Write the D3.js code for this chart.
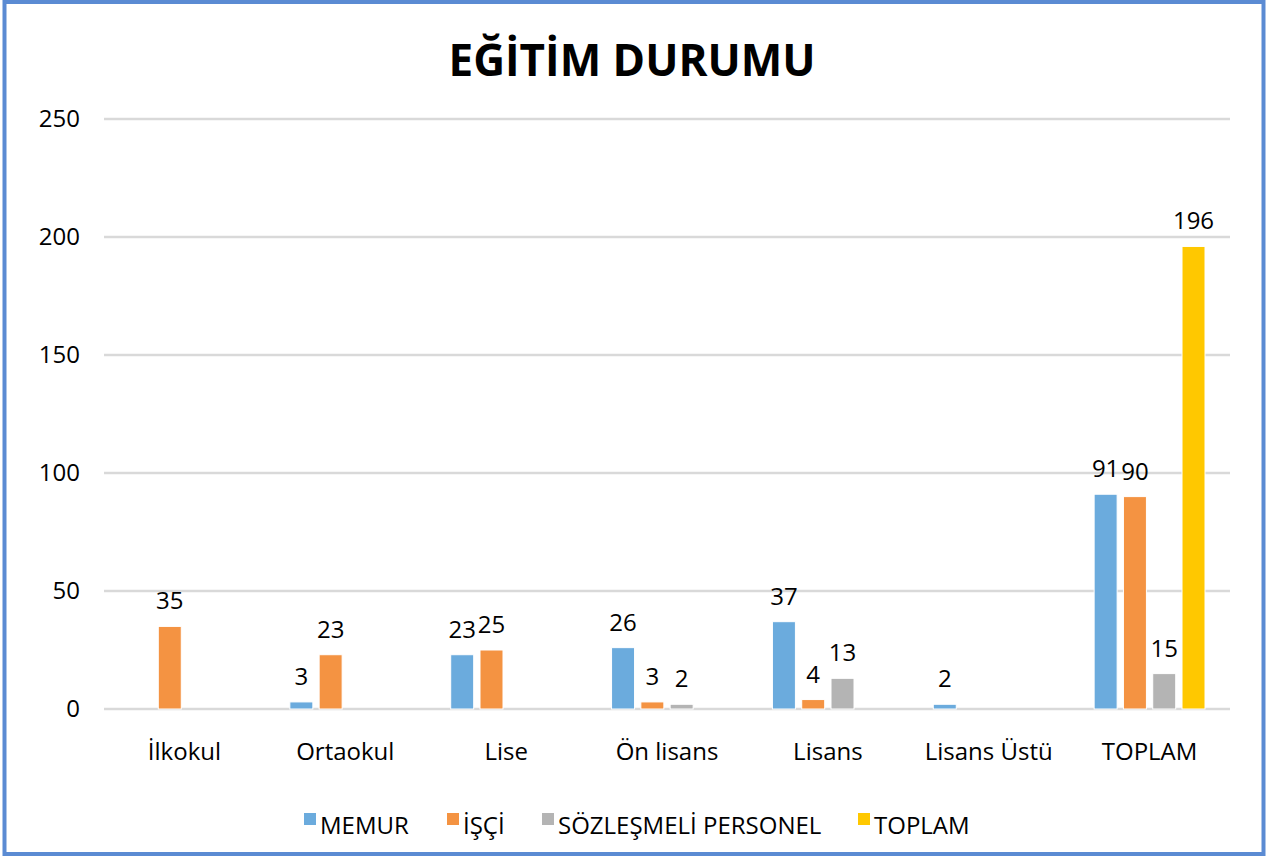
<!DOCTYPE html>
<html>
<head>
<meta charset="utf-8">
<script src="https://cdn.jsdelivr.net/npm/d3@7"></script>
<style>
  html, body { margin: 0; padding: 0; background: #fff; }
  svg text { font-family: "Open Sans", "Noto Sans", sans-serif; fill: #000; }
</style>
</head>
<body>
<svg id="chart"></svg>
<script>
// ── data ──
const categories = ['İlkokul', 'Ortaokul', 'Lise', 'Ön lisans', 'Lisans', 'Lisans Üstü', 'TOPLAM'];
const seriesNames = ['MEMUR', 'İŞÇİ', 'SÖZLEŞMELİ PERSONEL', 'TOPLAM'];
const memur     = [null, 3, 23, 26, 37, 2, 91];
const isci      = [35, 23, 25, 3, 4, null, 90];
const sozlesmeli = [null, null, null, 2, 13, null, 15];
const toplam    = [null, null, null, null, null, null, 196];
const yTicks = [0, 50, 100, 150, 200, 250];
const colors = ['#6BABDD', '#F49342', '#B4B4B4', '#FFC800'];

const seriesValues = [memur, isci, sozlesmeli, toplam];

const W = 1269, H = 857;
const M = { left: 104, right: 39, top: 119, bottom: 148 };

const svg = d3.select('#chart').attr('width', W).attr('height', H);

svg.append('rect').attr('x', 0).attr('y', 0).attr('width', W).attr('height', H).attr('fill', '#fff');
// outer border
svg.append('rect').attr('x', 4.5).attr('y', 2).attr('width', W - 10).attr('height', H - 5)
  .attr('fill', 'none').attr('stroke', '#5B8BD3').attr('stroke-width', 4);

// title
svg.append('text').attr('x', 632).attr('y', 76).attr('text-anchor', 'middle')
  .attr('font-size', 44).attr('font-weight', 700).text('EĞİTİM DURUMU');

const x0 = d3.scaleBand().domain(categories).range([M.left, W - M.right]).paddingInner(0).paddingOuter(0);
const x1 = d3.scaleBand().domain(seriesNames).range([0, x0.bandwidth()]).paddingInner(0.215).paddingOuter(0.853);
const y = d3.scaleLinear().domain([0, 250]).range([H - M.bottom, M.top]);

// grid
svg.append('g').selectAll('line').data(yTicks).enter().append('line')
  .attr('x1', M.left).attr('x2', W - M.right)
  .attr('y1', d => y(d)).attr('y2', d => y(d))
  .attr('stroke', '#D9D9D9').attr('stroke-width', 2.5);

// y axis labels
const yAxis = d3.axisLeft(y).tickValues(yTicks).tickSize(0).tickPadding(0);
const ya = svg.append('g').attr('transform', `translate(80,0)`).call(yAxis);
ya.select('.domain').remove();
ya.selectAll('text').attr('font-size', 24).attr('font-family', '"Open Sans", sans-serif').attr('fill', '#000');

// x axis labels
const xAxis = d3.axisBottom(x0).tickSize(0).tickPadding(0);
const xa = svg.append('g').attr('transform', `translate(0,${y(0) + 34})`).call(xAxis);
xa.select('.domain').remove();
xa.selectAll('text').attr('font-size', 24).attr('font-family', '"Open Sans", sans-serif').attr('fill', '#000');

// bars
const cells = [];
categories.forEach((c, ci) => {
  seriesNames.forEach((s, si) => {
    const v = seriesValues[si][ci];
    if (v !== null) cells.push({ cat: c, ser: s, si, v });
  });
});

const g = svg.append('g');
g.selectAll('rect').data(cells).enter().append('rect')
  .attr('x', d => x0(d.cat) + x1(d.ser))
  .attr('y', d => y(d.v))
  .attr('width', x1.bandwidth())
  .attr('height', d => y(0) - y(d.v))
  .attr('fill', d => colors[d.si])
  .attr('stroke', '#fff').attr('stroke-width', 1);

g.selectAll('text.lbl').data(cells).enter().append('text').attr('class', 'lbl')
  .attr('x', d => x0(d.cat) + x1(d.ser) + x1.bandwidth() / 2)
  .attr('y', d => y(d.v) - 17)
  .attr('text-anchor', 'middle').attr('font-size', 24)
  .text(d => d.v);

// legend
const legendX = [304, 447, 542, 858];
const lg = svg.append('g');
seriesNames.forEach((s, i) => {
  lg.append('rect').attr('x', legendX[i]).attr('y', 813).attr('width', 12).attr('height', 12).attr('fill', colors[i]);
  lg.append('text').attr('x', legendX[i] + 16).attr('y', 834).attr('font-size', 24).text(s);
});
</script>
</body>
</html>
